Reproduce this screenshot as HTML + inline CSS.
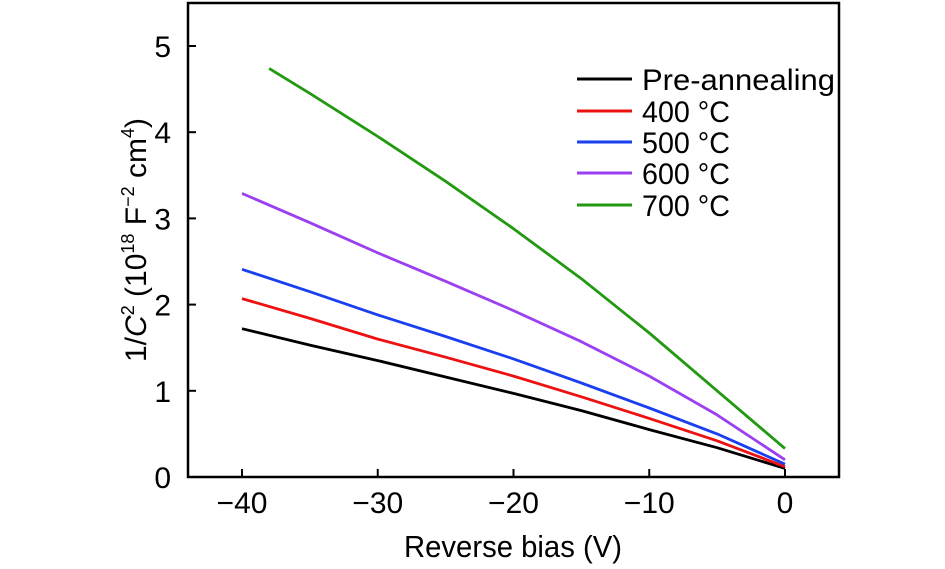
<!DOCTYPE html>
<html><head><meta charset="utf-8"><style>
html,body{margin:0;padding:0;background:#fff;}
svg{display:block;font-family:"Liberation Sans",sans-serif;}
</style></head><body>
<svg id="chart" width="945" height="569" viewBox="0 0 945 569"></svg>
<script>
const xTicks=[-40,-30,-20,-10,0];
const yTicks=[0,1,2,3,4,5];
const seriesNames=["Pre-annealing","400 °C","500 °C","600 °C","700 °C"];
const seriesColors=["#000000","#ee1111","#1a3ff0","#9b3ff0","#229911"];
const preX=[-40,-35,-30,-25,-20,-15,-10,-5,0];
const preY=[1.72,1.53,1.35,1.16,0.97,0.77,0.55,0.34,0.1];
const s400X=[-40,-35,-30,-25,-20,-15,-10,-5,0];
const s400Y=[2.07,1.84,1.6,1.39,1.17,0.93,0.68,0.42,0.12];
const s500X=[-40,-35,-30,-25,-20,-15,-10,-5,0];
const s500Y=[2.41,2.15,1.88,1.63,1.37,1.09,0.8,0.5,0.15];
const s600X=[-40,-35,-30,-25,-20,-15,-10,-5,0];
const s600Y=[3.29,2.95,2.6,2.27,1.93,1.57,1.17,0.72,0.2];
const s700X=[-38,-35,-30,-25,-20,-15,-10,-5,0];
const s700Y=[4.74,4.45,3.95,3.43,2.88,2.3,1.67,1.0,0.33];
const allX=[preX,s400X,s500X,s600X,s700X];
const allY=[preY,s400Y,s500Y,s600Y,s700Y];

const NS="http://www.w3.org/2000/svg";
const svg=document.getElementById('chart');
const X0=242,X1=785,Y0=477,Y5=46;
const sx=v=>X0+(v+40)/40*(X1-X0);
const sy=v=>Y0+(Y5-Y0)*v/5;
function mk(t,a,p){const e=document.createElementNS(NS,t);for(const k in a)e.setAttribute(k,a[k]);(p||svg).appendChild(e);return e;}

const frame=mk('rect',{x:188,y:3,width:651,height:474,fill:'none',stroke:'#000','stroke-width':2.5});



xTicks.forEach(v=>{
  const t=mk('line',{x1:sx(v),x2:sx(v),y1:Y0,y2:Y0-8,stroke:'#000','stroke-width':2});
  
  
  const l=mk('text',{x:sx(v),y:513,'text-anchor':'middle','font-size':30});
  l.textContent=(v<0?'−'+(-v):v);
  
  
});
yTicks.forEach(v=>{
  const t=mk('line',{x1:188,x2:196,y1:sy(v),y2:sy(v),stroke:'#000','stroke-width':2});
  
  
  const l=mk('text',{x:171,y:sy(v)+11,'text-anchor':'end','font-size':30});
  l.textContent=v;
  
  
});

allX.forEach((xs,i)=>{
  const d=xs.map((x,j)=>(j?'L':'M')+sx(x).toFixed(1)+','+sy(allY[i][j]).toFixed(1)).join(' ');
  const p=mk('path',{d:d,fill:'none',stroke:seriesColors[i],'stroke-width':2.8,'stroke-linejoin':'round'});
  
  
});

const legY=[79,111,142,173,205];
seriesNames.forEach((n,i)=>{
  const l=mk('line',{x1:577,x2:632,y1:legY[i],y2:legY[i],stroke:seriesColors[i],'stroke-width':3});
  
  
  const t=mk('text',{x:642,y:legY[i]+11,'font-size':30,textLength:n.length>6?193:88,lengthAdjust:'spacingAndGlyphs'});
  t.textContent=n;
  
  
});

const xt=mk('text',{x:513,y:557,'text-anchor':'middle','font-size':31,textLength:218,lengthAdjust:'spacingAndGlyphs'});
xt.textContent='Reverse bias (V)';



const yt=mk('text',{x:0,y:0,'text-anchor':'middle','font-size':30,transform:'translate(146,240) rotate(-90)'});
yt.innerHTML='1/<tspan font-style="italic">C</tspan><tspan font-size="18" dy="-12">2</tspan><tspan dy="12"> (10</tspan><tspan font-size="18" dy="-12">18</tspan><tspan dy="12"> F</tspan><tspan font-size="18" dy="-12">−2</tspan><tspan dy="12"> cm</tspan><tspan font-size="18" dy="-12">4</tspan><tspan dy="12">)</tspan>';


</script>
</body></html>
